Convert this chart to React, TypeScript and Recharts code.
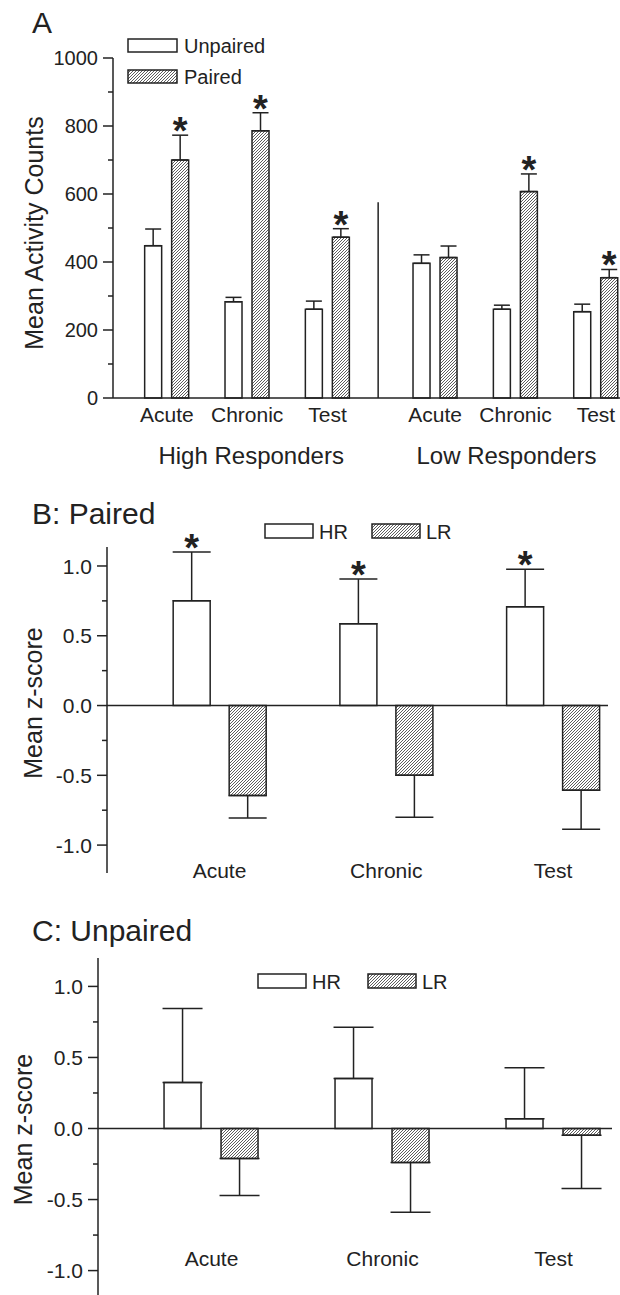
import { BarChart, Bar, XAxis, YAxis, ErrorBar, ReferenceLine, Legend, Rectangle } from 'recharts';

const FONT = '"Liberation Sans", Arial, Helvetica, sans-serif';
const INK = '#222';

// Panel A: mean activity counts
const conditions = ['Acute', 'Chronic', 'Test'];
const responderGroups = ['High Responders', 'Low Responders'];
const seriesA = ['Unpaired', 'Paired'];
const unpairedCounts = [448, 283, 261, 396, 261, 254];
const unpairedSem = [49, 13, 24, 25, 12, 22];
const pairedCounts = [700, 786, 473, 413, 607, 354];
const pairedSem = [73, 53, 25, 34, 52, 24];
const pairedSig = [true, true, true, false, true, true];
const countTicks = [0, 100, 200, 300, 400, 500, 600, 700, 800, 900, 1000];

// Panel B: paired, z-scores
const seriesZ = ['HR', 'LR'];
const pairedHR = [0.75, 0.586, 0.707];
const pairedHRSem = [0.35, 0.32, 0.27];
const pairedHRSig = [true, true, true];
const pairedLR = [-0.645, -0.5, -0.607];
const pairedLRSem = [0.16, 0.3, 0.28];

// Panel C: unpaired, z-scores
const unpairedHR = [0.324, 0.352, 0.068];
const unpairedHRSem = [0.52, 0.36, 0.36];
const unpairedLR = [-0.211, -0.239, -0.047];
const unpairedLRSem = [0.26, 0.35, 0.375];

const zTicks = [-1, -0.75, -0.5, -0.25, 0, 0.25, 0.5, 0.75, 1];

// low responders sit a bit further right than an even step
const dataA = unpairedCounts.map((u, i) => ({
  x: i + 1 + (i >= 3 ? 0.34 : 0),
  unpaired: u,
  unpairedErr: [0, unpairedSem[i]],
  paired: pairedCounts[i],
  pairedErr: [0, pairedSem[i]],
  sig: pairedSig[i],
}));

const zRows = (hr: number[], hrSem: number[], lr: number[], lrSem: number[], sig?: boolean[]) =>
  hr.map((h, i) => ({
    x: i + 1,
    hr: h,
    hrErr: [0, hrSem[i]],
    lr: lr[i],
    lrErr: [lrSem[i], 0],
    sig: sig ? sig[i] : false,
  }));

const dataB = zRows(pairedHR, pairedHRSem, pairedLR, pairedLRSem, pairedHRSig);
const dataC = zRows(unpairedHR, unpairedHRSem, unpairedLR, unpairedLRSem);

const hatch = (id: string) => (
  <pattern id={id} patternUnits="userSpaceOnUse" width={3} height={3}>
    <rect width={3} height={3} fill="#fff" />
    <path d="M-0.75,0.75 l1.5,-1.5 M0,3 l3,-3 M2.25,3.75 l1.5,-1.5" stroke="#333" strokeWidth={0.8} />
  </pattern>
);

function barShape(fill: string, valueKey: string, errKey: string, withStar: boolean) {
  return (props: any) => {
    const { x, y, width, height, payload } = props;
    const v = payload[valueKey];
    let star = null;
    if (withStar && payload.sig && v > 0 && height > 0) {
      const top = y - payload[errKey][1] * (height / v);
      star = (
        <text x={x + width / 2} y={top + 9} textAnchor="middle" fontSize={38} fontWeight="bold" fill={INK}>
          *
        </text>
      );
    }
    return (
      <g>
        <Rectangle x={x} y={y} width={width} height={height} fill={fill} stroke={INK} strokeWidth={1.5} />
        {star}
      </g>
    );
  };
}

function yTick(isMajor: (v: number) => boolean, fmt: (v: number) => string, fontSize: number) {
  return (props: any) => {
    const { x, y, payload } = props;
    const major = isMajor(payload.value);
    return (
      <g>
        <line x1={x - (major ? 10 : 5)} x2={x} y1={y} y2={y} stroke={INK} strokeWidth={1.5} />
        {major && (
          <text x={x - 15} y={y} dy="0.36em" textAnchor="end" fontSize={fontSize} fill={INK}>
            {fmt(payload.value)}
          </text>
        )}
      </g>
    );
  };
}

function yTitle(text: string, baseX: number, dy: number) {
  return (props: any) => {
    const vb = props.viewBox || {};
    const cy = vb.y + vb.height / 2 + dy;
    return (
      <text x={baseX} y={cy} transform={`rotate(-90 ${baseX} ${cy})`} textAnchor="middle" fontSize={25} fill={INK}>
        {text}
      </text>
    );
  };
}

const groupShift = [4, -9];

const tickA = (props: any) => {
  const { x, y, index } = props;
  return (
    <g>
      <text x={x} y={y + 24} textAnchor="middle" fontSize={21} fill={INK}>
        {conditions[index % 3]}
      </text>
      {index % 3 === 1 && (
        <text x={x + groupShift[Math.floor(index / 3)]} y={y + 66} textAnchor="middle" fontSize={24} fill={INK}>
          {responderGroups[Math.floor(index / 3)]}
        </text>
      )}
    </g>
  );
};

const zCatTick = (dy: number) => (props: any) => {
  const { x, y, index } = props;
  return (
    <text x={x} y={y + dy} textAnchor="middle" fontSize={21} fill={INK}>
      {conditions[index]}
    </text>
  );
};

const isMajorCount = (v: number) => v % 200 === 0;
const isMajorZ = (v: number) => Math.abs(v * 2 - Math.round(v * 2)) < 1e-6;

const legendA = () => (
  <svg width={620} height={100} style={{ display: 'block', overflow: 'visible' }}>
    <defs>{hatch('hatchLegA')}</defs>
    <rect x={128} y={39} width={49} height={13} fill="#fff" stroke={INK} strokeWidth={1.5} />
    <text x={184} y={53} fontSize={20} fill={INK}>{seriesA[0]}</text>
    <rect x={128} y={70} width={49} height={13} fill="url(#hatchLegA)" stroke={INK} strokeWidth={1.5} />
    <text x={184} y={84} fontSize={20} fill={INK}>{seriesA[1]}</text>
  </svg>
);

const legendZ = (id: string, top: number, x1: number, x2: number) => () => (
  <svg width={620} height={100} style={{ display: 'block', overflow: 'visible' }}>
    <defs>{hatch(id)}</defs>
    <rect x={x1} y={top} width={48} height={14} fill="#fff" stroke={INK} strokeWidth={1.5} />
    <text x={x1 + 54} y={top + 15} fontSize={20} fill={INK}>{seriesZ[0]}</text>
    <rect x={x2} y={top} width={48} height={14} fill={`url(#${id})`} stroke={INK} strokeWidth={1.5} />
    <text x={x2 + 54} y={top + 15} fontSize={20} fill={INK}>{seriesZ[1]}</text>
  </svg>
);

const legendWrap = { left: 0, top: 0, width: 620, height: 100, pointerEvents: 'none' as const };

function ZPanel({ data, domainX, domainY, yWidth, right, top, height, xHeight, tickDy, titleX, titleDy, errW, gap, hatchId, legend }: any) {
  return (
    <BarChart width={620} height={height} data={data} margin={{ top, right, bottom: 0, left: 0 }} barSize={37} barGap={gap}>
      <defs>{hatch(hatchId)}</defs>
      <XAxis
        type="number"
        dataKey="x"
        domain={domainX}
        ticks={[1, 2, 3]}
        interval={0}
        height={xHeight}
        tickSize={0}
        tickMargin={0}
        axisLine={false}
        tick={zCatTick(tickDy)}
      />
      <YAxis
        type="number"
        domain={domainY}
        ticks={zTicks}
        interval={0}
        width={yWidth}
        tickSize={0}
        tickMargin={0}
        axisLine={{ stroke: INK, strokeWidth: 1.5 }}
        tick={yTick(isMajorZ, (v) => v.toFixed(1), 21)}
        label={yTitle('Mean z-score', titleX, titleDy)}
      />
      <ReferenceLine y={0} stroke={INK} strokeWidth={1.5} />
      <Bar dataKey="hr" fill="#fff" shape={barShape('#fff', 'hr', 'hrErr', true)} isAnimationActive={false}>
        <ErrorBar dataKey="hrErr" width={errW} stroke={INK} strokeWidth={1.5} direction="y" />
      </Bar>
      <Bar dataKey="lr" fill={`url(#${hatchId})`} shape={barShape(`url(#${hatchId})`, 'lr', 'lrErr', false)} isAnimationActive={false}>
        <ErrorBar dataKey="lrErr" width={errW} stroke={INK} strokeWidth={1.5} direction="y" />
      </Bar>
      <Legend verticalAlign="middle" align="center" layout="horizontal" wrapperStyle={legendWrap} content={legend} />
    </BarChart>
  );
}

export default function App() {
  return (
    <div
      style={{
        position: 'absolute',
        left: 0,
        top: 0,
        width: 620,
        height: 1295,
        overflow: 'hidden',
        background: '#fff',
        fontFamily: FONT,
        color: INK,
      }}
    >
      <div style={{ position: 'absolute', left: 0, top: 0 }}>
        <BarChart width={620} height={480} data={dataA} margin={{ top: 58, right: 0, bottom: 0, left: 0 }} barSize={17} barGap={10}>
          <defs>{hatch('hatchA')}</defs>
          <XAxis
            type="number"
            dataKey="x"
            domain={[0.33, 6.64]}
            ticks={dataA.map((d) => d.x)}
            interval={0}
            height={82}
            tickSize={0}
            tickMargin={0}
            axisLine={{ stroke: INK, strokeWidth: 1.5 }}
            tick={tickA}
          />
          <YAxis
            type="number"
            domain={[0, 1000]}
            ticks={countTicks}
            interval={0}
            width={113}
            tickSize={0}
            tickMargin={0}
            axisLine={{ stroke: INK, strokeWidth: 1.5 }}
            tick={yTick(isMajorCount, (v) => String(v), 20)}
            label={yTitle('Mean Activity Counts', 43, 5)}
          />
          <ReferenceLine segment={[{ x: 3.63, y: 0 }, { x: 3.63, y: 576 }]} stroke={INK} strokeWidth={1.5} />
          <Bar dataKey="unpaired" fill="#fff" shape={barShape('#fff', 'unpaired', 'unpairedErr', false)} isAnimationActive={false}>
            <ErrorBar dataKey="unpairedErr" width={8} stroke={INK} strokeWidth={1.5} direction="y" />
          </Bar>
          <Bar dataKey="paired" fill="url(#hatchA)" shape={barShape('url(#hatchA)', 'paired', 'pairedErr', true)} isAnimationActive={false}>
            <ErrorBar dataKey="pairedErr" width={8} stroke={INK} strokeWidth={1.5} direction="y" />
          </Bar>
          <Legend verticalAlign="middle" align="center" layout="vertical" wrapperStyle={legendWrap} content={legendA} />
        </BarChart>
      </div>

      <div style={{ position: 'absolute', left: 0, top: 480 }}>
        <ZPanel
          data={dataB}
          domainX={[0.325, 3.33]}
          domainY={[-1.2, 1.136]}
          yWidth={107}
          right={12}
          top={67}
          height={420}
          xHeight={27}
          tickDy={5}
          titleX={42}
          titleDy={-7}
          errW={19}
          gap={19}
          hatchId="hatchB"
          legend={legendZ('hatchLegB', 44, 265, 372)}
        />
      </div>

      <div style={{ position: 'absolute', left: 0, top: 900 }}>
        <ZPanel
          data={dataC}
          domainX={[0.336, 3.342]}
          domainY={[-1.2, 1.2]}
          yWidth={98}
          right={8}
          top={58}
          height={420}
          xHeight={21}
          tickDy={-33}
          titleX={32}
          titleDy={1}
          errW={20}
          gap={20}
          hatchId="hatchC"
          legend={legendZ('hatchLegC', 74, 258, 368)}
        />
      </div>

      <svg width={620} height={1295} style={{ position: 'absolute', left: 0, top: 0, pointerEvents: 'none' }}>
        <text x={32} y={33} fontSize={30} fill={INK}>A</text>
        <text x={32} y={524} fontSize={30} fill={INK}>B: Paired</text>
        <text x={32} y={941} fontSize={30} fill={INK}>C: Unpaired</text>
      </svg>
    </div>
  );
}
